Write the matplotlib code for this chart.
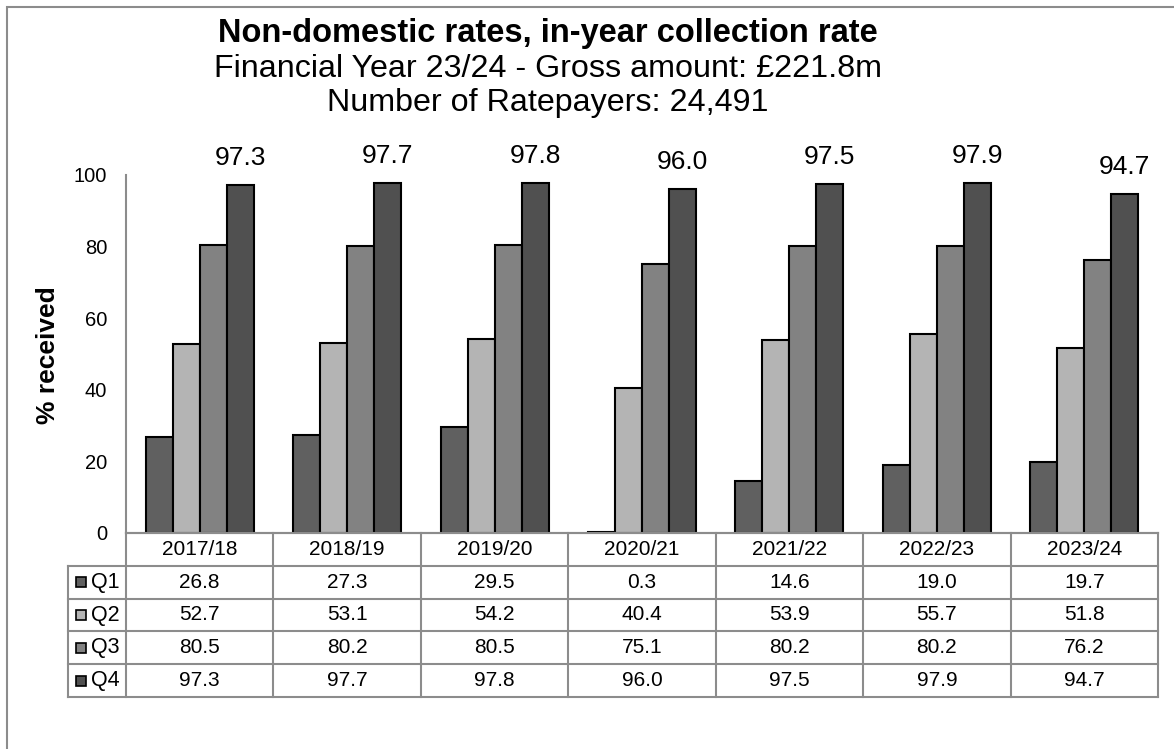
import numpy as np
import matplotlib.pyplot as plt
from matplotlib.patches import Rectangle

plt.rcParams['font.family'] = ['Liberation Sans', 'DejaVu Sans']

# Collection rates by quarter (% of gross amount received)
years = ['2017/18', '2018/19', '2019/20', '2020/21', '2021/22', '2022/23', '2023/24']
quarters = ['Q1', 'Q2', 'Q3', 'Q4']
q1 = [26.8, 27.3, 29.5, 0.3, 14.6, 19.0, 19.7]
q2 = [52.7, 53.1, 54.2, 40.4, 53.9, 55.7, 51.8]
q3 = [80.5, 80.2, 80.5, 75.1, 80.2, 80.2, 76.2]
q4 = [97.3, 97.7, 97.8, 96.0, 97.5, 97.9, 94.7]
series = [q1, q2, q3, q4]
colors = ['#606060', '#b4b4b4', '#828282', '#505050']
grid_col = '#8c8c8c'

W, H = 1174, 749
fig = plt.figure(figsize=(W / 100, H / 100), dpi=100)

def px(x0, y0, x1, y1):
    return [x0 / W, 1 - y1 / H, (x1 - x0) / W, (y1 - y0) / H]

# outer chart border (only top and left edges fall inside the image)
fig.patches.append(Rectangle((7 / W, -0.1), 1.2, 1 - 7 / H + 0.1, transform=fig.transFigure,
                             fill=False, edgecolor=grid_col, lw=1.5))

ax = fig.add_axes(px(126, 175, 1158, 533))
x = np.arange(len(years))
bw = 0.183
for i, (vals, c) in enumerate(zip(series, colors)):
    ax.bar(x + (i - 1.5) * bw, vals, bw, color=c, edgecolor='black', lw=1.5, zorder=3)
for xi, v in zip(x, q4):
    ax.text(xi + 1.5 * bw, v + 7.5, f'{v:.1f}', ha='center', va='center', fontsize=19)

ax.set_xlim(-0.5, len(years) - 0.5)
ax.set_ylim(0, 100)
ax.set_yticks(range(0, 101, 20))
ax.tick_params(axis='y', length=0, pad=13.5, labelsize=14.5)
ax.set_xticks([])
for s in ['top', 'right']:
    ax.spines[s].set_visible(False)
ax.spines['left'].set_color(grid_col)
ax.spines['left'].set_linewidth(1.5)
ax.spines['bottom'].set_color(grid_col)
ax.spines['bottom'].set_linewidth(1.5)
ax.set_ylabel('% received', fontsize=19, fontweight='bold', va='center')
ax.yaxis.set_label_coords((48 - 126) / 1032, (533 - 355) / 358)

# data table under the bars
tab = fig.add_axes(px(126, 533, 1158, 697))
tab.set_xlim(-0.5, len(years) - 0.5)
tab.set_ylim(5, 0)
tab.axis('off')
cw = 1032 / len(years)
left = -0.5 - 58 / cw
kw = dict(color=grid_col, lw=1.5, clip_on=False)
tab.plot([-0.5, 6.5], [0, 0], **kw)
for r in range(1, 6):
    tab.plot([left, 6.5], [r, r], **kw)
tab.plot([left, left], [1, 5], **kw)
for c in range(len(years) + 1):
    tab.plot([c - 0.5, c - 0.5], [0, 5], **kw)
for j, y in enumerate(years):
    tab.text(j, 0.5, y, ha='center', va='center', fontsize=15)
for r, (name, vals, c) in enumerate(zip(quarters, series, colors)):
    tab.add_patch(Rectangle((left + 8 / cw, r + 1.5 - 0.15), 10 / cw, 0.3, facecolor=c,
                            edgecolor='black', lw=1.2, clip_on=False))
    tab.text(left + 23 / cw, r + 1.5, name, ha='left', va='center', fontsize=15.5)
    for j, v in enumerate(vals):
        tab.text(j, r + 1.5, f'{v:.1f}', ha='center', va='center', fontsize=15)

# title block, placed by baseline
fig.text(548 / W, 1 - 41.7 / H, 'Non-domestic rates, in-year collection rate',
         ha='center', va='baseline', fontsize=23.5, fontweight='bold')
fig.text(548 / W, 1 - 76.7 / H, 'Financial Year 23/24 - Gross amount: £221.8m',
         ha='center', va='baseline', fontsize=23.2)
fig.text(548 / W, 1 - 111.5 / H, 'Number of Ratepayers: 24,491',
         ha='center', va='baseline', fontsize=23.2)

fig.savefig('out.png', dpi=100)
